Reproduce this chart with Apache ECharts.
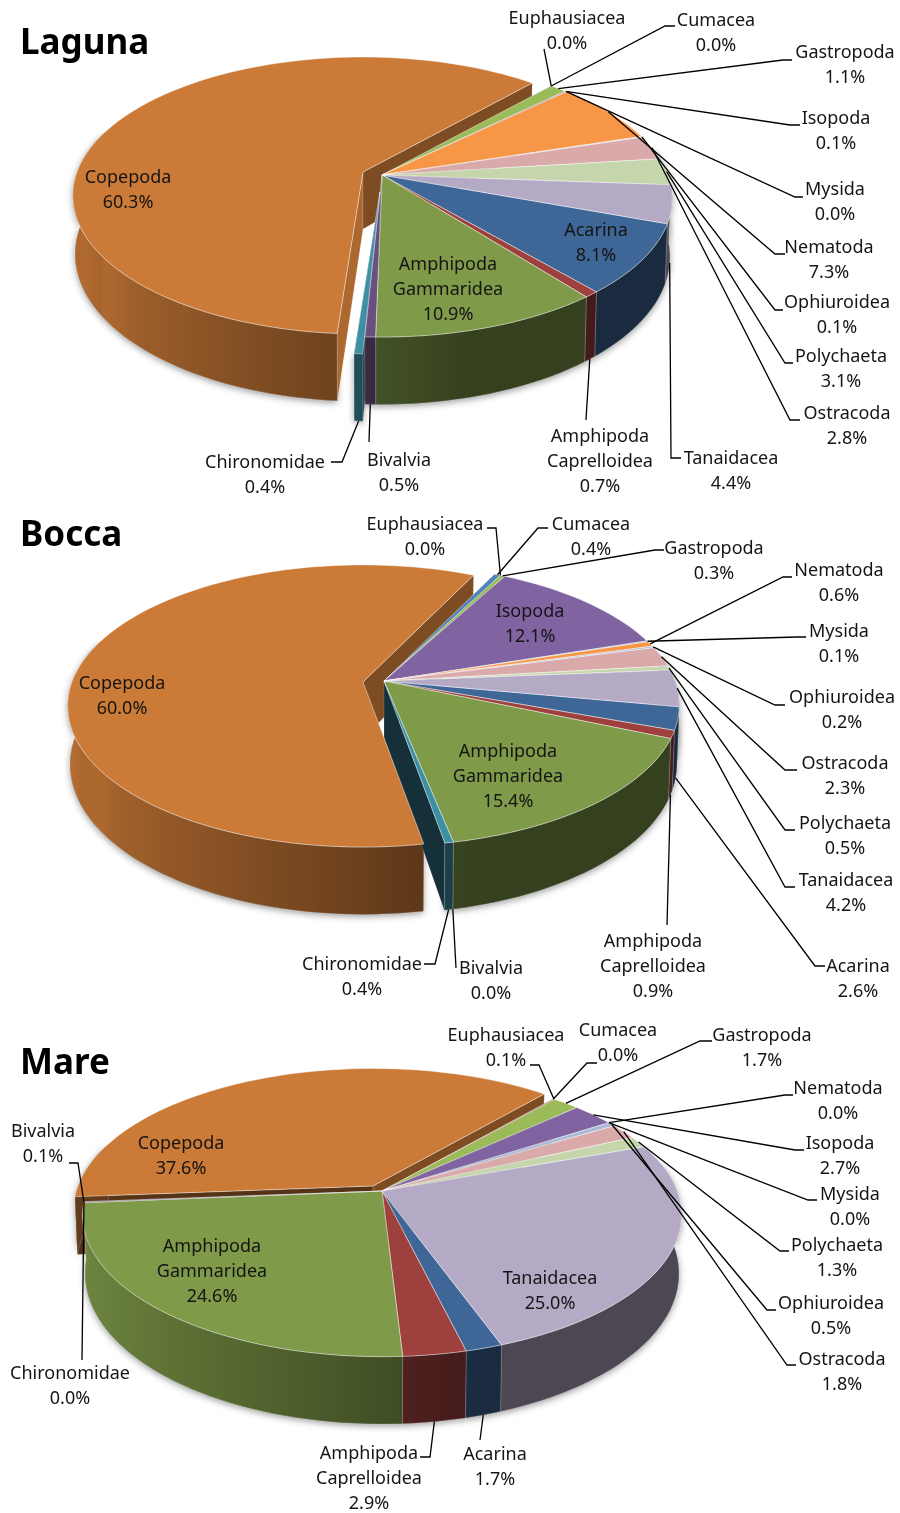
<!DOCTYPE html>
<html><head><meta charset="utf-8">
<style>html,body{margin:0;padding:0;background:#fff}#c{width:900px;height:1513px}</style>
<script src="https://cdn.jsdelivr.net/npm/echarts@6/dist/echarts.min.js"></script>
</head><body><div id="c"></div>
<script>
const categories = ['Acarina','Amphipoda Caprelloidea','Amphipoda Gammaridea','Bivalvia','Chironomidae','Copepoda','Cumacea','Euphausiacea','Gastropoda','Isopoda','Mysida','Nematoda','Ophiuroidea','Ostracoda','Polychaeta','Tanaidacea'];
const lagunaValues = [8.1,0.7,10.9,0.5,0.4,60.3,0.0,0.0,1.1,0.1,0.0,7.3,0.1,2.8,3.1,4.4];
const boccaValues  = [2.6,0.9,15.4,0.0,0.4,60.0,0.4,0.0,0.3,12.1,0.1,0.6,0.2,2.3,0.5,4.2];
const mareValues   = [1.7,2.9,24.6,0.1,0.0,37.6,0.0,0.1,1.7,2.7,0.0,0.0,0.5,1.8,1.3,25.0];
const sliceColors = ['#3E6797','#9E413E','#7F9A48','#69507F','#3E8EA4','#CB7A37','#4F81BD','#C0504D','#9BBB59','#8064A2','#4BACC6','#F79646','#AABAD7','#D9AAA9','#C6D6AC','#B5AAC5'];

const lagunaLayout = {
  Copepoda:{label:[128,177]}, Acarina:{label:[596,230]}, 'Amphipoda Gammaridea':{label:[448,264]},
  Euphausiacea:{label:[567,18],elbow:[544,49],from:'top'},
  Cumacea:{label:[716,20],elbow:[665,26],tail:[675,26],from:'top'},
  Gastropoda:{label:[845,52],elbow:[783,60],tail:[792,60],from:'top'},
  Isopoda:{label:[836,118],elbow:[790,125],tail:[800,125],from:'top'},
  Mysida:{label:[835,189],elbow:[795,197],tail:[803,197],from:'top'},
  Nematoda:{label:[829,247],elbow:[775,254],tail:[785,254],from:'top'},
  Ophiuroidea:{label:[837,302],elbow:[775,310],tail:[783,310],from:'top'},
  Polychaeta:{label:[841,356],elbow:[785,363],tail:[793,363],from:'top'},
  Ostracoda:{label:[847,413],elbow:[790,420],tail:[800,420],from:'top'},
  Tanaidacea:{label:[731,458],elbow:[671,458],tail:[681,458],from:'bottom'},
  'Amphipoda Caprelloidea':{label:[600,436],elbow:[586,420],from:'bottom'},
  Bivalvia:{label:[399,460],elbow:[369,442],from:'bottom'},
  Chironomidae:{label:[265,462],elbow:[342,462],tail:[331,462],from:'bottom'}
};
const boccaLayout = {
  Copepoda:{label:[122,683]}, Isopoda:{label:[530,611]}, 'Amphipoda Gammaridea':{label:[508,751]},
  Euphausiacea:{label:[425,524],elbow:[496,528],tail:[487,528],from:'top'},
  Cumacea:{label:[591,524],elbow:[538,528],tail:[548,528],from:'top'},
  Gastropoda:{label:[714,548],elbow:[655,550],tail:[664,550],from:'top'},
  Nematoda:{label:[839,570],elbow:[783,577],tail:[792,577],from:'top'},
  Mysida:{label:[839,631],elbow:[797,637],tail:[806,637],from:'top'},
  Ophiuroidea:{label:[842,697],elbow:[775,705],tail:[785,705],from:'top'},
  Ostracoda:{label:[845,763],elbow:[785,770],tail:[797,770],from:'top'},
  Polychaeta:{label:[845,823],elbow:[785,830],tail:[795,830],from:'top'},
  Tanaidacea:{label:[846,880],elbow:[785,887],tail:[795,887],from:'top'},
  Acarina:{label:[858,966],elbow:[815,966],tail:[825,966],from:'bottom'},
  'Amphipoda Caprelloidea':{label:[653,941],elbow:[667,925],from:'bottom'},
  Bivalvia:{label:[491,968],elbow:[456,968],from:'bottom'},
  Chironomidae:{label:[362,964],elbow:[435,964],tail:[424,964],from:'bottom'}
};
const mareLayout = {
  Copepoda:{label:[181,1143]}, Tanaidacea:{label:[550,1278]}, 'Amphipoda Gammaridea':{label:[212,1246]},
  Euphausiacea:{label:[506,1035],elbow:[539,1065],tail:[530,1065],from:'top'},
  Cumacea:{label:[618,1030],elbow:[587,1063],tail:[597,1063],from:'top'},
  Gastropoda:{label:[762,1035],elbow:[700,1041],tail:[712,1041],from:'top'},
  Nematoda:{label:[838,1088],elbow:[785,1095],tail:[793,1095],from:'top'},
  Isopoda:{label:[840,1143],elbow:[795,1150],tail:[804,1150],from:'top'},
  Mysida:{label:[850,1194],elbow:[808,1200],tail:[817,1200],from:'top'},
  Polychaeta:{label:[837,1245],elbow:[780,1251],tail:[789,1251],from:'top'},
  Ophiuroidea:{label:[831,1303],elbow:[767,1310],tail:[776,1310],from:'top'},
  Ostracoda:{label:[842,1359],elbow:[787,1365],tail:[796,1365],from:'top'},
  Acarina:{label:[495,1454],elbow:[480,1440],from:'bottom'},
  'Amphipoda Caprelloidea':{label:[369,1453],elbow:[430,1457],tail:[420,1457],from:'bottom'},
  Chironomidae:{label:[70,1373],elbow:[82,1360],from:'top'},
  Bivalvia:{label:[43,1131],elbow:[78,1163],tail:[69,1163],from:'top'}
};
const pies = [
  {title:'Laguna',titleTop:27,values:lagunaValues,layout:lagunaLayout,ax:382,ay:175,R:286,Rk:134.5,p:0.17,depth:57,start:110,
   explode:{Copepoda:[-19,-3],Chironomidae:[-2,17]},radial:{Copepoda:[0.85,0.62]},rimScale:{}},
  {title:'Bocca',titleTop:519,values:boccaValues,layout:boccaLayout,ax:384,ay:681,R:291,Rk:137,p:0.17,depth:57,start:100.5,
   explode:{Copepoda:[-21,1]},radial:{Copepoda:[0.85,0.62]},rimScale:{}},
  {title:'Mare',titleTop:1047,values:mareValues,layout:mareLayout,ax:382,ay:1191,R:295,Rk:137.5,p:0.17,depth:57,start:160.1,
   explode:{Copepoda:[-9,-5]},radial:{Copepoda:[0.42,0.62]},rimScale:{Copepoda:0.55}}
];
const NO_OFFSET=[0,0];
const rad = Math.PI/180;
const labelFont = '18px "Noto Sans"';
function shade(hex,k){
  const n=parseInt(hex.slice(1),16);
  return 'rgb('+[(n>>16)&255,(n>>8)&255,n&255].map(c=>Math.min(255,Math.round(c*k))).join(',')+')';
}
function rimLight(t){
  t=((t%360)+360)%360;
  if(t>=180) return 0.52+0.36*Math.abs(Math.sin(t*rad));
  if(t>=165) return 0.42+(t-165)/15*0.10;
  return 0.42;
}
function project(pie,off,theta,bottom){
  const u=Math.sin(theta*rad), v=-Math.cos(theta*rad), f=1/(1-pie.p*v);
  const s=bottom?0.992:1;
  return [pie.ax+off[0]+pie.R*u*f*s, pie.ay+off[1]+pie.Rk*v*f*s+(bottom?pie.depth*f:0)];
}
function buildSlices(pie){
  const sum=pie.values.reduce((a,b)=>a+b,0); let a=pie.start;
  const list=categories.map((name,i)=>{
    const sweep=pie.values[i]/sum*360, s={name,i,value:pie.values[i],a0:a,a1:a+sweep,color:sliceColors[i],off:pie.explode[name]||NO_OFFSET};
    a+=sweep; return s;
  });
  const live=list.filter(s=>s.value>0);
  live.forEach((s,j)=>{
    const prev=live[(j-1+live.length)%live.length], next=live[(j+1)%live.length];
    s.gapStart=prev.off!==s.off; s.gapEnd=next.off!==s.off;
  });
  return list;
}
function arc(pie,s,a0,a1,bottom){
  const n=Math.max(1,Math.ceil((a1-a0)/2)),pts=[];
  for(let j=0;j<=n;j++)pts.push(project(pie,s.off,a0+(a1-a0)*j/n,bottom));
  return pts;
}
function rimRange(s){
  const base=Math.floor(s.a0/360)*360;
  return [Math.max(s.a0-base,78),Math.min(s.a1-base,288)];
}
function wallChildren(pie,s){
  const out=[], rs=pie.radial[s.name]||[0.34,0.34];
  const apexT=[pie.ax+s.off[0],pie.ay+s.off[1]];
  const wall=(theta,k)=>{
    const t=project(pie,s.off,theta,false), b=project(pie,s.off,theta,true);
    out.push({type:'polygon',shape:{points:[apexT,t,b,[apexT[0],apexT[1]+pie.depth]]},
      style:{fill:shade(s.color,k),stroke:'rgba(255,255,255,0.25)',lineWidth:0.6}});
  };
  if(s.gapStart)wall(s.a0,rs[0]);
  if(s.gapEnd)wall(s.a1,rs[1]);
  const [lo,hi]=rimRange(s);
  if(hi>lo){
    const top=arc(pie,s,lo,hi,false), bot=arc(pie,s,lo,hi,true);
    const xs=top.concat(bot).map(q=>q[0]), x0=Math.min(...xs), x1=Math.max(...xs);
    const stops=[], scale=pie.rimScale[s.name]||1;
    for(let j=0;j<=8;j++){
      const t=lo+(hi-lo)*j/8, q=project(pie,s.off,t,false);
      stops.push({offset:Math.max(0,Math.min(1,(q[0]-x0)/Math.max(1,x1-x0))),color:shade(s.color,rimLight(t)*scale)});
    }
    stops.sort((m,n)=>m.offset-n.offset);
    out.push({type:'polygon',shape:{points:top.concat(bot.reverse())},
      style:{fill:{type:'linear',global:true,x:x0,y:0,x2:x1,y2:0,colorStops:stops},
        stroke:'rgba(255,255,255,0.3)',lineWidth:0.6}});
  }
  return out;
}
function shadowSeries(pie,slices){
  const live=slices.filter(s=>s.value>0);
  return {type:'custom',coordinateSystem:'none',silent:true,z:1,clip:false,animation:false,
    data:live.map(s=>({name:s.name,value:[s.value]})),
    renderItem:(params)=>{
      const s=live[params.dataIndex], [lo,hi]=rimRange(s);
      if(!(hi>lo))return {type:'group',children:[]};
      const top=arc(pie,s,lo,hi,false), bot=arc(pie,s,lo,hi,true);
      return {type:'polygon',shape:{points:top.concat(bot.reverse())},
        style:{fill:'#777',shadowBlur:7,shadowColor:'rgba(0,0,0,0.4)',shadowOffsetY:2}};
    }};
}
function wallSeries(pie,slices){
  const order=slices.filter(s=>s.value>0).sort((a,b)=>{
    const d=m=>-Math.cos((m.a0+m.a1)/2*rad); return d(a)-d(b);
  });
  return {type:'custom',coordinateSystem:'none',silent:true,z:2,clip:false,animation:false,
    data:order.map(s=>({name:s.name,value:[s.value]})),
    renderItem:(params)=>({type:'group',children:wallChildren(pie,order[params.dataIndex])})};
}
function topSeries(pie,slices){
  return {type:'custom',coordinateSystem:'none',silent:true,z:3,clip:false,animation:false,
    data:slices.map(s=>({name:s.name,value:[s.value]})),
    renderItem:(params)=>{
      const s=slices[params.dataIndex];
      if(!(s.value>0))return {type:'group',children:[]};
      const pts=[[pie.ax+s.off[0],pie.ay+s.off[1]]].concat(arc(pie,s,s.a0,s.a1,false));
      return {type:'polygon',shape:{points:pts},style:{fill:s.color,stroke:'rgba(255,255,255,0.55)',lineWidth:0.8}};
    }};
}
function labelSeries(pie,slices){
  return {type:'custom',coordinateSystem:'none',silent:true,z:5,clip:false,animation:false,
    data:slices.map(s=>({name:s.name,value:[s.value]})),
    renderItem:(params,api)=>{
      const s=slices[params.dataIndex], L=pie.layout[s.name], kids=[];
      if(L.from){
        const mid=(s.a0+s.a1)/2, first=project(pie,s.off,mid,L.from==='bottom');
        const pts=[first,L.elbow]; if(L.tail)pts.push(L.tail);
        kids.push({type:'polyline',shape:{points:pts},style:{fill:null,stroke:'#000',lineWidth:1.3}});
      }
      const txt=s.name.replace(' ','\n')+'\n'+api.value(0).toFixed(1)+'%';
      kids.push({type:'text',style:{text:txt,x:L.label[0],y:L.label[1]-11.5,align:'center',verticalAlign:'top',
        font:labelFont,lineHeight:25,fill:'#151515'}});
      return {type:'group',children:kids};
    }};
}
const series=[];
pies.forEach(p=>{const sl=buildSlices(p); series.push(shadowSeries(p,sl),wallSeries(p,sl),topSeries(p,sl),labelSeries(p,sl));});
const chart=echarts.init(document.getElementById('c'),null,{renderer:'canvas'});
chart.setOption({
  animation:false,backgroundColor:'#fff',
  title:pies.map(p=>({text:p.title,left:20,top:p.titleTop,padding:0,
    textStyle:{fontFamily:'"Noto Sans"',fontWeight:'bold',fontSize:35,color:'#000'}})),
  series
});
</script></body></html>
